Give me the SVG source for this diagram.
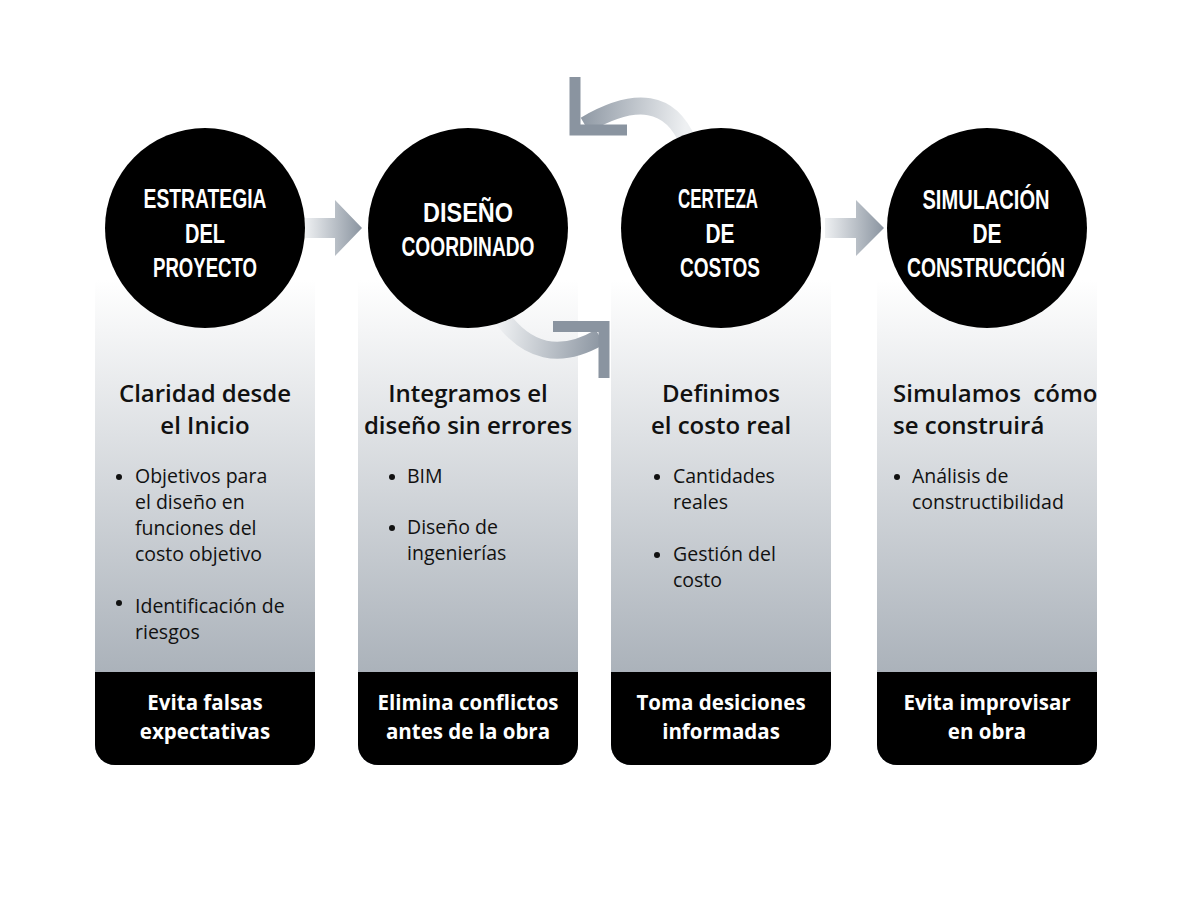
<svg xmlns="http://www.w3.org/2000/svg" width="1200" height="898" viewBox="0 0 1200 898">
<defs>
<linearGradient id="pg" x1="0" y1="0" x2="0" y2="1"><stop offset="0" stop-color="#ffffff"/><stop offset="1" stop-color="#97a0aa"/></linearGradient>
<linearGradient id="ag" x1="0" y1="0" x2="1" y2="0"><stop offset="0" stop-color="#eef0f2"/><stop offset="1" stop-color="#8a94a0"/></linearGradient>
<linearGradient id="cg1" x1="500" y1="320" x2="605" y2="335" gradientUnits="userSpaceOnUse"><stop offset="0" stop-color="#eef0f2"/><stop offset="1" stop-color="#8a94a0"/></linearGradient>
<linearGradient id="cg2" x1="685" y1="130" x2="575" y2="120" gradientUnits="userSpaceOnUse"><stop offset="0" stop-color="#eef0f2"/><stop offset="1" stop-color="#8a94a0"/></linearGradient>
<style>
.t{font-family:"Liberation Sans",Arial,sans-serif;font-weight:bold;font-size:27px;fill:#fff;text-anchor:middle}
.h{font-family:"Open Sans",sans-serif;font-weight:600;font-size:24px;fill:#111;text-anchor:middle}
.b{font-family:"Open Sans",sans-serif;font-size:19.5px;fill:#111}
.f{font-family:"Open Sans",sans-serif;font-weight:bold;font-size:20.5px;fill:#fff;text-anchor:middle}
</style>
</defs>
<rect width="1200" height="898" fill="#fff"/>
<g id="n1">
<path d="M95 280H315V745A20 20 0 0 1 295 765H115A20 20 0 0 1 95 745Z" fill="url(#pg)"/>
<path d="M95 672H315V745A20 20 0 0 1 295 765H115A20 20 0 0 1 95 745Z" fill="#000"/>
<circle cx="205" cy="228" r="100" fill="#000"/>
<text class="t" x="205" y="208" textLength="123" lengthAdjust="spacingAndGlyphs">ESTRATEGIA</text>
<text class="t" x="205" y="243" textLength="40" lengthAdjust="spacingAndGlyphs">DEL</text>
<text class="t" x="205" y="277" textLength="104" lengthAdjust="spacingAndGlyphs">PROYECTO</text>
<text class="h" x="205" y="402">Claridad desde</text>
<text class="h" x="205" y="434">el Inicio</text>
<circle cx="119" cy="477" r="3" fill="#111"/><circle cx="119" cy="603" r="3" fill="#111"/>
<text class="b" x="135" y="483">Objetivos para</text>
<text class="b" x="135" y="509">el diseño en</text>
<text class="b" x="135" y="535">funciones del</text>
<text class="b" x="135" y="561">costo objetivo</text>
<text class="b" x="135" y="613">Identificación de</text>
<text class="b" x="135" y="639">riesgos</text>
<text class="f" x="205" y="710">Evita falsas</text>
<text class="f" x="205" y="739">expectativas</text>
</g>
<g id="n2">
<path d="M358 280H578V745A20 20 0 0 1 558 765H378A20 20 0 0 1 358 745Z" fill="url(#pg)"/>
<path d="M358 672H578V745A20 20 0 0 1 558 765H378A20 20 0 0 1 358 745Z" fill="#000"/>
<text class="h" x="468" y="402">Integramos el</text>
<text class="h" x="468" y="434">diseño sin errores</text>
<circle cx="392" cy="477" r="3" fill="#111"/><circle cx="392" cy="528" r="3" fill="#111"/>
<text class="b" x="407" y="483">BIM</text>
<text class="b" x="407" y="534">Diseño de</text>
<text class="b" x="407" y="560">ingenierías</text>
<text class="f" x="468" y="710">Elimina conflictos</text>
<text class="f" x="468" y="739">antes de la obra</text>
</g>
<g id="n3">
<path d="M611 280H831V745A20 20 0 0 1 811 765H631A20 20 0 0 1 611 745Z" fill="url(#pg)"/>
<path d="M611 672H831V745A20 20 0 0 1 811 765H631A20 20 0 0 1 611 745Z" fill="#000"/>
<text class="h" x="721" y="402">Definimos</text>
<text class="h" x="721" y="434">el costo real</text>
<circle cx="657" cy="477" r="3" fill="#111"/><circle cx="657" cy="555" r="3" fill="#111"/>
<text class="b" x="673" y="483">Cantidades</text>
<text class="b" x="673" y="509">reales</text>
<text class="b" x="673" y="561">Gestión del</text>
<text class="b" x="673" y="587">costo</text>
<text class="f" x="721" y="710">Toma desiciones</text>
<text class="f" x="721" y="739">informadas</text>
</g>
<g id="connectors">
<path d="M305 218H335V200L362 228L335 256V238H305Z" fill="url(#ag)"/>
<path d="M825 218H856V200L884 228L856 256V238H825Z" fill="url(#ag)"/>
<path d="M500 315 Q540 372 600 337" fill="none" stroke="url(#cg1)" stroke-width="17"/>
<path d="M553 326.5H604V378" fill="none" stroke="#8a94a0" stroke-width="11"/>
<path d="M688 142 Q662 80 585 125" fill="none" stroke="url(#cg2)" stroke-width="17"/>
<path d="M575 77V130H627" fill="none" stroke="#8a94a0" stroke-width="11"/>
</g>
<g id="c2">
<circle cx="468" cy="228" r="100" fill="#000"/>
<text class="t" x="468" y="222" textLength="90" lengthAdjust="spacingAndGlyphs">DISEÑO</text>
<text class="t" x="468" y="256" textLength="133" lengthAdjust="spacingAndGlyphs">COORDINADO</text>
</g>
<g id="c3">
<circle cx="721" cy="228" r="100" fill="#000"/>
<text class="t" x="718" y="208" textLength="80" lengthAdjust="spacingAndGlyphs">CERTEZA</text>
<text class="t" x="720" y="243" textLength="29" lengthAdjust="spacingAndGlyphs">DE</text>
<text class="t" x="720" y="277" textLength="80" lengthAdjust="spacingAndGlyphs">COSTOS</text>
</g>
<g id="n4">
<path d="M877 280H1097V745A20 20 0 0 1 1077 765H897A20 20 0 0 1 877 745Z" fill="url(#pg)"/>
<path d="M877 672H1097V745A20 20 0 0 1 1077 765H897A20 20 0 0 1 877 745Z" fill="#000"/>
<circle cx="987" cy="228" r="100" fill="#000"/>
<text class="t" x="986" y="209" textLength="127" lengthAdjust="spacingAndGlyphs">SIMULACIÓN</text>
<text class="t" x="987" y="243" textLength="29" lengthAdjust="spacingAndGlyphs">DE</text>
<text class="t" x="986" y="277" textLength="158" lengthAdjust="spacingAndGlyphs">CONSTRUCCIÓN</text>
<text class="h" x="893" y="402" style="text-anchor:start" xml:space="preserve">Simulamos  cómo</text>
<text class="h" x="893" y="434" style="text-anchor:start">se construirá</text>
<circle cx="897" cy="477" r="3" fill="#111"/>
<text class="b" x="912" y="483">Análisis de</text>
<text class="b" x="912" y="509">constructibilidad</text>
<text class="f" x="987" y="710">Evita improvisar</text>
<text class="f" x="987" y="739">en obra</text>
</g>
</svg>
